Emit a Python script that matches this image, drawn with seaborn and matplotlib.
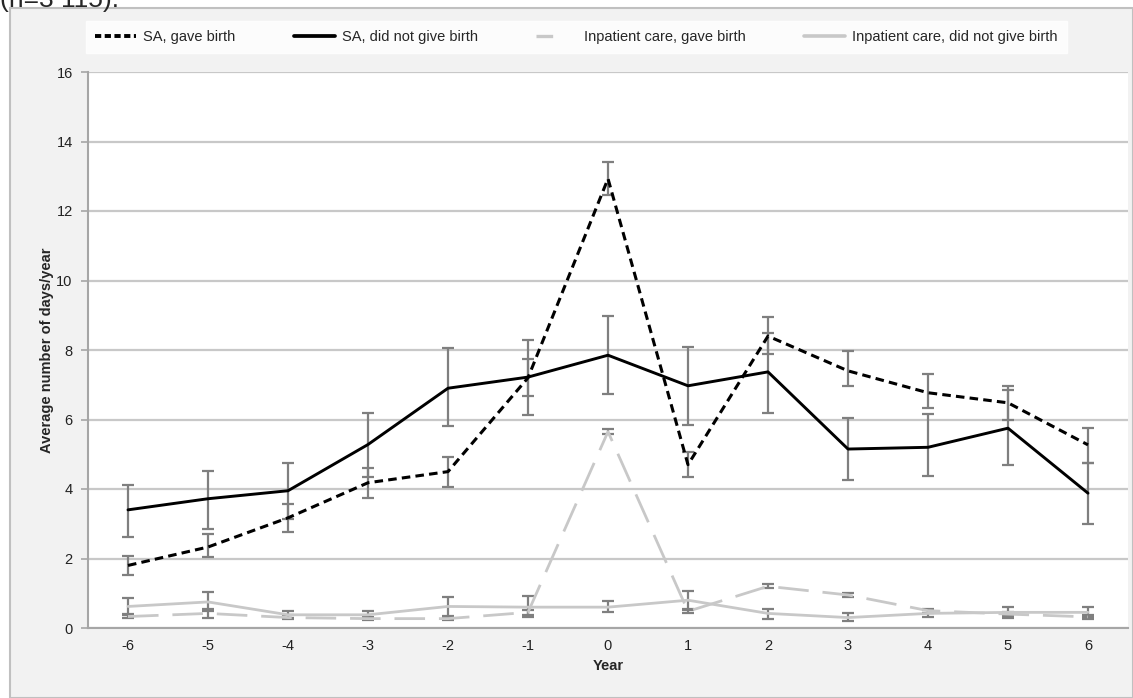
import matplotlib
matplotlib.use("Agg")
import matplotlib.pyplot as plt
import seaborn as sns
import pandas as pd
from matplotlib.lines import Line2D
from matplotlib.patches import Rectangle

# Data
years = [-6, -5, -4, -3, -2, -1, 0, 1, 2, 3, 4, 5, 6]

sa_birth = [1.8, 2.33, 3.17, 4.18, 4.5, 7.2, 12.93, 4.7, 8.4, 7.4, 6.77, 6.48, 5.27]
sa_birth_lo = [1.52, 2.05, 2.77, 3.75, 4.05, 6.67, 12.45, 4.35, 7.88, 6.96, 6.33, 6.0, 4.75]
sa_birth_hi = [2.07, 2.7, 3.57, 4.6, 4.93, 7.73, 13.42, 5.07, 8.95, 7.97, 7.3, 6.97, 5.75]

sa_nobirth = [3.4, 3.72, 3.95, 5.28, 6.9, 7.22, 7.85, 6.97, 7.37, 5.15, 5.2, 5.75, 3.88]
sa_nobirth_lo = [2.62, 2.85, 3.15, 4.35, 5.8, 6.12, 6.73, 5.85, 6.2, 4.25, 4.37, 4.7, 3.0]
sa_nobirth_hi = [4.12, 4.52, 4.75, 6.2, 8.05, 8.28, 8.97, 8.1, 8.5, 6.03, 6.15, 6.85, 4.75]

ip_birth = [0.33, 0.42, 0.3, 0.27, 0.27, 0.45, 5.65, 0.48, 1.2, 0.95, 0.5, 0.4, 0.32]
ip_birth_lo = [0.28, 0.3, 0.25, 0.22, 0.22, 0.38, 5.57, 0.42, 1.14, 0.9, 0.44, 0.34, 0.27]
ip_birth_hi = [0.38, 0.54, 0.36, 0.32, 0.32, 0.52, 5.73, 0.54, 1.26, 1.0, 0.56, 0.46, 0.38]

ip_nobirth = [0.62, 0.75, 0.38, 0.38, 0.62, 0.6, 0.6, 0.8, 0.42, 0.3, 0.42, 0.45, 0.45]
ip_nobirth_lo = [0.4, 0.48, 0.28, 0.28, 0.35, 0.32, 0.46, 0.52, 0.27, 0.2, 0.32, 0.3, 0.32]
ip_nobirth_hi = [0.85, 1.03, 0.48, 0.48, 0.9, 0.92, 0.78, 1.07, 0.56, 0.42, 0.52, 0.6, 0.6]

labels = ["SA, gave birth", "SA, did not give birth",
          "Inpatient care, gave birth", "Inpatient care, did not give birth"]

sns.set_theme(style="white")
plt.rcParams['font.family'] = ['Liberation Sans', 'DejaVu Sans']
plt.rcParams['axes.unicode_minus'] = False

series = [
    (labels[0], sa_birth, sa_birth_lo, sa_birth_hi, "black", 2.2, (0, (2.8, 1.7))),
    (labels[1], sa_nobirth, sa_nobirth_lo, sa_nobirth_hi, "black", 2.1, "-"),
    (labels[2], ip_birth, ip_birth_lo, ip_birth_hi, "#c8c8c8", 2.0, (0, (11, 5))),
    (labels[3], ip_nobirth, ip_nobirth_lo, ip_nobirth_hi, "#c8c8c8", 2.0, "-"),
]

fig = plt.figure(figsize=(11.33, 6.98), dpi=100, facecolor="white")

# grey outer panel
fig.patches.append(Rectangle((10 / 1133, 0), 1 - 10 / 1133, 1 - 8 / 698,
                             transform=fig.transFigure, facecolor="#f2f2f2",
                             edgecolor="#c0c0c0", linewidth=1.5, zorder=-5))
fig.text(0.0, 1.0, "(n=3 115).", fontsize=19, va="center", ha="left")

ax = fig.add_axes([88 / 1133, 1 - 628 / 698, 1040 / 1133, (628 - 72) / 698])
ax.set_zorder(2)
ax.set_facecolor("white")

for name, vals, lo, hi, col, lw, ls in series:
    df = pd.DataFrame({"Year": years, "value": vals})
    yerr = [[v - l for v, l in zip(vals, lo)], [h - v for v, h in zip(vals, hi)]]
    ax.errorbar(years, vals, yerr=yerr, fmt="none", ecolor="#7f7f7f",
                elinewidth=1.6, capsize=4, capthick=1.6, zorder=3)
    sns.lineplot(data=df, x="Year", y="value", ax=ax, color=col,
                 linewidth=lw, linestyle=ls, zorder=4)

ax.set_xlim(-6.5, 6.5)
ax.set_ylim(0, 16)
ax.set_yticks(range(0, 17, 2))
ax.set_xticks(years)
ax.set_xticks([x + 0.5 for x in years[:-1]] + [-6.5, 6.5], minor=True)
ax.tick_params(axis="x", which="major", length=0, labelsize=10.5, pad=8, colors="#222222")
ax.tick_params(axis="x", which="minor", length=4, width=1.2, color="#a6a6a6", direction="out")
ax.tick_params(axis="y", length=5, width=1.2, color="#a6a6a6", labelsize=10.5, pad=6,
               left=True, labelcolor="#222222")
ax.grid(axis="y", color="#c8c8c8", linewidth=1.6)
ax.grid(axis="x", visible=False)
ax.set_axisbelow(True)
for s in ["top", "right"]:
    ax.spines[s].set_visible(False)
for s in ["left", "bottom"]:
    ax.spines[s].set_color("#a6a6a6")
    ax.spines[s].set_linewidth(1.5)

ax.set_xlabel("Year", fontsize=10.5, fontweight="bold", labelpad=4)
ax.set_ylabel("Average number of days/year", fontsize=10.5, fontweight="bold", labelpad=2)

handles = [Line2D([], [], color=c, linewidth=lw + 0.6, linestyle=ls) for _, _, _, _, c, lw, ls in series]
handles[0] = Line2D([], [], color="black", linewidth=2.8, linestyle=(0, (1.6, 0.9)))
handles[2] = Line2D([], [], color="#c8c8c8", linewidth=2.4, linestyle=(1, (6, 10)))
leg = fig.legend(handles, labels, loc="center", ncol=4,
                 bbox_to_anchor=((78 + 1075) / 2 / 1133, 1 - 37 / 698),
                 frameon=True, fancybox=False, fontsize=10.5, handlelength=2.8,
                 handletextpad=0.5, columnspacing=4.0, borderpad=0.6)
leg.get_frame().set_facecolor("white")
leg.get_frame().set_edgecolor("white")

fig.savefig("out.png", dpi=100, facecolor=fig.get_facecolor())
